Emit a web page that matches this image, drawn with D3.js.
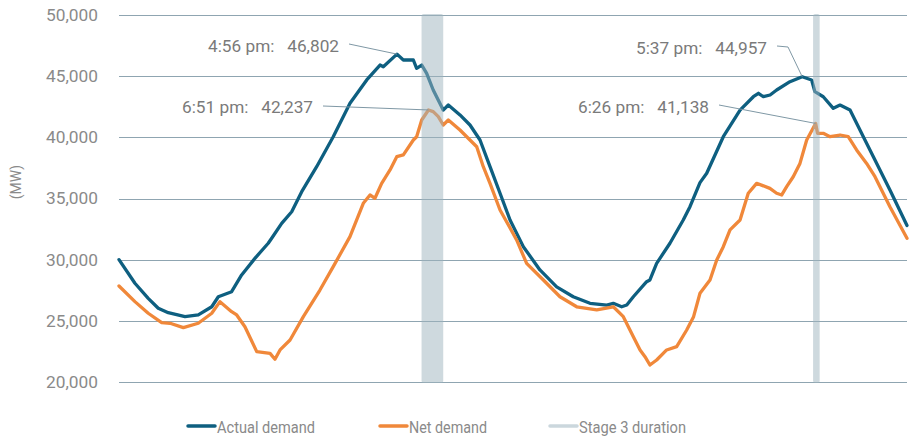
<!DOCTYPE html>
<html>
<head>
<meta charset="utf-8">
<script src="https://cdn.jsdelivr.net/npm/d3@7"></script>
<style>
  html, body { margin: 0; padding: 0; background: #ffffff; }
  svg { display: block; font-family: Roboto, "Open Sans", sans-serif; }
</style>
</head>
<body>
<svg id="chart" width="911" height="439"></svg>
<script>
// ---- data (hours since midnight of day 1, MW) ----
const actualHours = [0, 0.97, 1.78, 2.39, 3.0, 4.02, 4.83, 5.65, 6.05, 6.86, 7.47, 8.28, 9.09, 9.3, 9.91, 10.52, 11.13, 12.04, 13.05, 14.07, 15.09, 15.9, 16.1, 16.933, 17.32, 17.93, 18.13, 18.44, 18.74, 19.14, 19.75, 20.06, 20.77, 21.38, 21.99, 22.6, 23.21, 23.82, 24.63, 25.64, 26.66, 27.67, 28.69, 29.71, 30.11, 30.62, 30.93, 31.33, 32.14, 32.34, 32.75, 33.56, 34.37, 34.78, 35.39, 35.8, 36.81, 37.83, 38.64, 38.95, 39.25, 39.66, 40.06, 40.87, 41.617, 42.19, 42.39, 42.9, 43.51, 43.92, 44.53, 45.34, 45.95, 46.96, 48.0];
const actualMW = [30000, 28070, 26840, 26030, 25670, 25340, 25480, 26150, 26970, 27380, 28750, 30110, 31340, 31750, 32970, 33920, 35560, 37600, 40050, 42780, 44690, 45910, 45770, 46802, 46320, 46320, 45640, 45910, 45230, 43870, 42230, 42640, 41830, 41010, 39780, 37600, 35430, 33240, 31060, 29160, 27780, 26970, 26430, 26290, 26430, 26150, 26290, 26970, 28200, 28340, 29700, 31340, 33240, 34330, 36300, 37060, 40050, 42230, 43320, 43600, 43320, 43460, 43870, 44550, 44957, 44690, 43730, 43320, 42370, 42640, 42230, 40050, 38420, 35690, 32800];

const netHours = [0, 0.97, 1.78, 2.6, 3.11, 3.92, 4.83, 5.65, 6.15, 6.86, 7.17, 7.67, 8.39, 9.2, 9.5, 9.81, 10.42, 11.23, 12.24, 13.05, 14.07, 14.88, 15.29, 15.59, 16.0, 16.51, 16.92, 17.32, 17.93, 18.13, 18.44, 18.85, 19.14, 19.45, 19.75, 20.06, 20.77, 21.38, 21.79, 22.19, 22.6, 23.21, 23.82, 24.22, 24.83, 25.85, 26.86, 27.88, 29.1, 30.11, 30.72, 31.33, 31.74, 32.04, 32.34, 32.75, 33.36, 33.97, 34.58, 35.0, 35.39, 36.0, 36.41, 36.81, 37.22, 37.83, 38.33, 38.84, 39.65, 40.06, 40.37, 40.67, 41.07, 41.48, 41.89, 42.433, 42.55, 42.9, 43.31, 43.92, 44.42, 44.93, 45.54, 46.05, 46.96, 48.0];
const netMW = [27850, 26570, 25620, 24850, 24800, 24440, 24800, 25620, 26570, 25750, 25480, 24520, 22480, 22340, 21860, 22620, 23430, 25340, 27520, 29430, 31880, 34610, 35290, 35020, 36240, 37330, 38420, 38560, 39780, 40050, 41420, 42237, 42100, 41690, 41010, 41420, 40600, 39780, 39230, 37600, 36240, 34060, 32600, 31610, 29700, 28340, 26970, 26150, 25890, 26150, 25340, 23700, 22620, 22070, 21390, 21800, 22620, 22890, 24250, 25340, 27250, 28340, 29970, 31060, 32430, 33240, 35430, 36240, 35830, 35430, 35290, 35970, 36780, 37870, 39780, 41138, 40330, 40330, 40050, 40190, 40050, 38970, 37870, 36780, 34330, 31750];

const stage3Start = [18.43, 42.28];
const stage3End = [19.75, 42.68];

const yTicks = [20000, 25000, 30000, 35000, 40000, 45000, 50000];

const peakLabels = ["4:56 pm:", "6:51 pm:", "5:37 pm:", "6:26 pm:"];
const peakHours = [16.933, 18.85, 41.617, 42.433];
const peakMW = [46802, 42237, 44957, 41138];

const legendNames = ["Actual demand", "Net demand", "Stage 3 duration"];

// ---- drawing ----
const svg = d3.select("#chart");
const x = d3.scaleLinear().domain([0, 48]).range([119, 907]);
const y = d3.scaleLinear().domain([20000, 50000]).range([382, 15]);

const BLUE = "#0e5f80", ORANGE = "#f0883a", GRID = "#8fa5b1", TEXT = "#8a8a8a";

// gridlines + tick labels via axis
const yAxis = d3.axisLeft(y).tickValues(yTicks).tickSize(-(907 - 119)).tickPadding(21)
  .tickFormat(d3.format(","));
const gAxis = svg.append("g").attr("transform", "translate(119,0)").call(yAxis);
gAxis.select(".domain").remove();
gAxis.selectAll(".tick line").attr("stroke", GRID).attr("stroke-width", 1).attr("shape-rendering", "crispEdges");
gAxis.selectAll(".tick text").attr("fill", TEXT).attr("font-size", 17).attr("font-family", "Roboto, sans-serif")
  .attr("textLength", 52).attr("lengthAdjust", "spacingAndGlyphs");

svg.append("text").attr("transform", "translate(21,182) rotate(-90)")
  .attr("text-anchor", "middle").attr("fill", TEXT).attr("font-size", 14).text("(MW)");

const line = d3.line().x(d => x(d[0])).y(d => y(d[1]));
const actual = actualHours.map((h, i) => [h, actualMW[i]]);
const net = netHours.map((h, i) => [h, netMW[i]]);

svg.append("path").datum(actual).attr("d", line).attr("fill", "none")
  .attr("stroke", BLUE).attr("stroke-width", 3.3).attr("stroke-linejoin", "round").attr("stroke-linecap", "round");
svg.append("path").datum(net).attr("d", line).attr("fill", "none")
  .attr("stroke", ORANGE).attr("stroke-width", 3.3).attr("stroke-linejoin", "round").attr("stroke-linecap", "round");

// stage 3 bands (over the lines, semi-transparent)
svg.selectAll("rect.band").data(stage3Start.map((s, i) => [s, stage3End[i]])).join("rect")
  .attr("class", "band")
  .attr("x", d => x(d[0])).attr("width", d => x(d[1]) - x(d[0]))
  .attr("y", y(50000) - 1).attr("height", y(20000) - y(50000) + 2)
  .attr("rx", 2).attr("fill", "#9db3be").attr("fill-opacity", 0.5);

// annotations
const labelPos = [
  { tx: 339, ty: 46, lx: 349, ly: 44 },
  { tx: 313, ty: 107, lx: 323, ly: 106 },
  { tx: 767, ty: 48, lx: 777, ly: 46, bend: 788 },
  { tx: 709, ty: 107, lx: 719, ly: 105 }
];
peakLabels.forEach((lab, i) => {
  const p = labelPos[i];
  const px = x(peakHours[i]), py = y(peakMW[i]);
  const pts = p.bend ? [[p.lx, p.ly], [p.bend, p.ly + 1], [px, py]] : [[p.lx, p.ly], [px, py]];
  svg.append("path").attr("d", d3.line()(pts)).attr("fill", "none")
    .attr("stroke", "#7f98a5").attr("stroke-width", 1);
  svg.append("text").attr("x", p.tx).attr("y", p.ty).attr("dy", "0.35em")
    .attr("text-anchor", "end").attr("fill", "#7a7a7a").attr("font-size", 17)
    .attr("xml:space", "preserve").style("white-space", "pre")
    .attr("textLength", 131).attr("lengthAdjust", "spacingAndGlyphs")
    .text(lab + "   " + d3.format(",")(peakMW[i]));
});

// legend
const legendColors = [BLUE, ORANGE, "#cbd7dd"];
const legendX = [188, 380, 550];
const legendTextLen = [98, 78, 107];
legendNames.forEach((n, i) => {
  svg.append("line").attr("x1", legendX[i]).attr("x2", legendX[i] + 27)
    .attr("y1", 426).attr("y2", 426).attr("stroke", legendColors[i])
    .attr("stroke-width", 3.5).attr("stroke-linecap", "round");
  svg.append("text").attr("x", legendX[i] + 29).attr("y", 427).attr("dy", "0.35em")
    .attr("fill", TEXT).attr("font-size", 17)
    .attr("textLength", legendTextLen[i]).attr("lengthAdjust", "spacingAndGlyphs").text(n);
});
</script>
</body>
</html>
